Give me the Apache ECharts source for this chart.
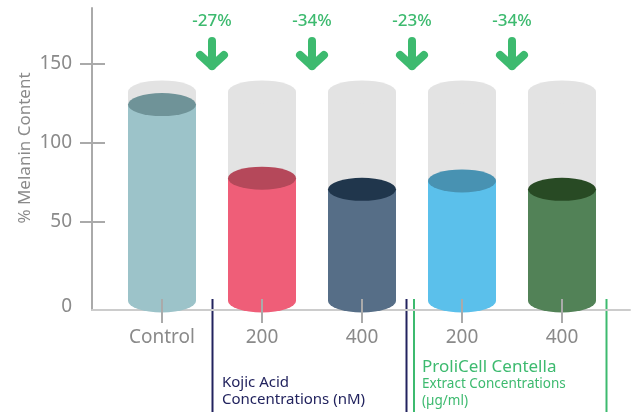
<!DOCTYPE html>
<html>
<head>
<meta charset="utf-8">
<script src="https://cdn.jsdelivr.net/npm/echarts@6/dist/echarts.min.js"></script>
<style>html,body{margin:0;padding:0;background:#fff}#c{width:632px;height:412px}</style>
</head>
<body>
<div id="c"></div>
<script>
const categories = ['Control', '200', '400', '200', '400'];
const bgValues = [132, 132, 132, 132, 132];
const values = [124, 77.5, 70.5, 75.8, 70.5];
const bodyColors = ['#9cc3c9', '#ef5e78', '#566e87', '#5bc0eb', '#528257'];
const topColors = ['#6f9398', '#b5485a', '#20364c', '#4892b2', '#284a24'];
const changes = ['-27%', '-34%', '-23%', '-34%'];
const yTickValues = [50, 100, 150];
const yLabelValues = [-3.5, 50, 100, 150];

const FONT = '"Noto Sans", sans-serif';
const GRAY = '#8a8a8a';
const GREEN = '#3dba6f';
const NAVY = '#22235e';
const Y_MIN = -5.7, Y_MAX = 185;

const chart = echarts.init(document.getElementById('c'));
const BW = 68;
const option = {
  animation: false,
  grid: [
    {left: 112, right: 20, top: 8, bottom: 102},
    {left: 92, right: 2, top: 8, bottom: 102}
  ],
  xAxis: [
    {type: 'category', gridIndex: 0, data: categories, position: 'bottom', z: 10,
     axisLine: {show: false, onZero: false},
     axisTick: {show: true, inside: true, length: 11, alignWithLabel: true, lineStyle: {color: '#aaaaaa', width: 2}},
     axisLabel: {show: false}},
    {type: 'category', gridIndex: 0, data: categories, position: 'bottom', z: 10,
     axisLine: {show: false, onZero: false},
     axisTick: {show: true, inside: false, length: 13, alignWithLabel: true, lineStyle: {color: '#aaaaaa', width: 2}},
     axisLabel: {show: true, color: GRAY, fontSize: 19, fontFamily: FONT, margin: 18}},
    {type: 'value', gridIndex: 1, min: 0, max: 1,
     axisLine: {show: true, onZero: false, lineStyle: {color: '#cccccc', width: 2}},
     axisTick: {show: false}, axisLabel: {show: false}, splitLine: {show: false}}
  ],
  yAxis: [
    {type: 'value', gridIndex: 0, min: Y_MIN, max: Y_MAX, show: false},
    {type: 'value', gridIndex: 1, position: 'left', min: Y_MIN, max: Y_MAX,
     axisLine: {show: true, onZero: false, lineStyle: {color: '#aaaaaa', width: 2}},
     axisTick: {show: true, inside: false, length: 12, customValues: yTickValues, lineStyle: {color: '#aaaaaa', width: 2}},
     axisLabel: {show: true, customValues: yLabelValues, color: GRAY, fontSize: 19, fontFamily: FONT, margin: 20,
       formatter: v => (v < 0 ? '0' : String(v))},
     splitLine: {show: false}},
    {type: 'value', gridIndex: 1, position: 'left', min: Y_MIN, max: Y_MAX,
     axisLine: {show: false, onZero: false},
     axisTick: {show: true, inside: true, length: 13, customValues: yTickValues, lineStyle: {color: '#aaaaaa', width: 2}},
     axisLabel: {show: false}, splitLine: {show: false}}
  ],
  series: [
    {type: 'bar', xAxisIndex: 0, yAxisIndex: 0, data: bgValues, barWidth: BW, barGap: '-100%', z: 1,
     itemStyle: {color: '#e3e3e3'}},
    {type: 'pictorialBar', xAxisIndex: 0, yAxisIndex: 0, data: bgValues, symbol: 'circle', symbolSize: [BW, 23],
     symbolPosition: 'end', symbolOffset: [0, '-50%'], barWidth: BW, barGap: '-100%', z: 2,
     itemStyle: {color: '#e3e3e3'}},
    {type: 'bar', xAxisIndex: 0, yAxisIndex: 0, barWidth: BW, barGap: '-100%', z: 3,
     data: values.map((v, i) => ({value: v, itemStyle: {color: bodyColors[i]}}))},
    {type: 'pictorialBar', xAxisIndex: 0, yAxisIndex: 0, symbol: 'circle', symbolSize: [BW, 23],
     symbolPosition: 'start', symbolOffset: [0, '50%'], barWidth: BW, barGap: '-100%', z: 3,
     data: values.map((v, i) => ({value: v, itemStyle: {color: bodyColors[i]}}))},
    {type: 'pictorialBar', xAxisIndex: 0, yAxisIndex: 0, symbol: 'circle', symbolSize: [BW, 23],
     symbolPosition: 'end', symbolOffset: [0, '-50%'], barWidth: BW, barGap: '-100%', z: 4,
     data: values.map((v, i) => ({value: v, itemStyle: {color: topColors[i]}}))},
    {type: 'custom', xAxisIndex: 0, yAxisIndex: 0, clip: false, z: 5,
     data: changes.map((c, i) => [i, 0]),
     renderItem: function (params, api) {
       const i = api.value(0);
       const x = (api.coord([i, 0])[0] + api.coord([i + 1, 0])[0]) / 2;
       const top = params.coordSys.y;
       const ls = {stroke: GREEN, lineWidth: 8, lineCap: 'round', lineJoin: 'round', fill: null};
       return {type: 'group', children: [
         {type: 'text', style: {text: changes[params.dataIndex], x: x, y: top + 13, align: 'center', verticalAlign: 'middle',
           fill: GREEN, fontSize: 17, fontWeight: 500, fontFamily: FONT}},
         {type: 'polyline', shape: {points: [[x, top + 33], [x, top + 58]]}, style: ls},
         {type: 'polyline', shape: {points: [[x - 12, top + 47], [x, top + 58], [x + 12, top + 47]]}, style: ls}
       ]};
     }}
  ],
  graphic: [
    {type: 'text', x: 25, y: 148, rotation: Math.PI / 2, style: {text: '% Melanin Content', align: 'center', verticalAlign: 'middle',
      fill: GRAY, fontSize: 17, fontFamily: FONT}},
    {type: 'line', shape: {x1: 212.5, y1: 299, x2: 212.5, y2: 412}, style: {stroke: NAVY, lineWidth: 2}},
    {type: 'line', shape: {x1: 406.5, y1: 299, x2: 406.5, y2: 412}, style: {stroke: NAVY, lineWidth: 2}},
    {type: 'line', shape: {x1: 414, y1: 299, x2: 414, y2: 412}, style: {stroke: GREEN, lineWidth: 2}},
    {type: 'line', shape: {x1: 606.5, y1: 299, x2: 606.5, y2: 412}, style: {stroke: GREEN, lineWidth: 2}},
    {type: 'text', x: 222, y: 383, style: {text: 'Kojic Acid', verticalAlign: 'middle', fill: NAVY, fontSize: 15, fontFamily: FONT}},
    {type: 'text', x: 222, y: 400, style: {text: 'Concentrations (nM)', verticalAlign: 'middle', fill: NAVY, fontSize: 15, fontFamily: FONT}},
    {type: 'text', x: 422, y: 367, style: {text: 'ProliCell Centella', verticalAlign: 'middle', fill: GREEN, fontSize: 17, fontFamily: FONT}},
    {type: 'text', x: 422, y: 384, style: {text: 'Extract Concentrations', verticalAlign: 'middle', fill: GREEN, fontSize: 13.5, fontFamily: FONT}},
    {type: 'text', x: 422, y: 401, style: {text: '(µg/ml)', verticalAlign: 'middle', fill: GREEN, fontSize: 13.5, fontFamily: FONT}}
  ]
};
chart.setOption(option);
</script>
</body>
</html>
